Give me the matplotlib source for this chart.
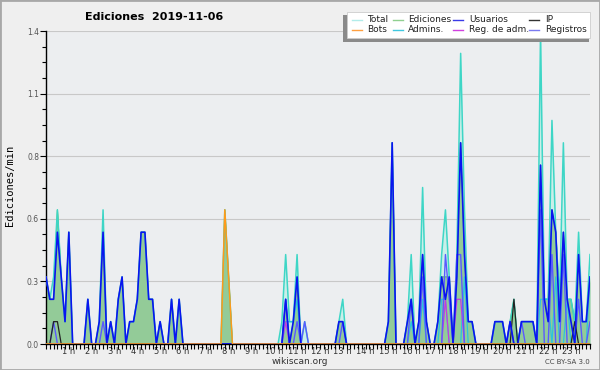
import numpy as np
import matplotlib
matplotlib.use('Agg')
import matplotlib.pyplot as plt
from matplotlib.patches import Rectangle
from matplotlib.lines import Line2D

# edits per 10 minutes, one value per 10-min bin (144 bins)
total = [3,2,3,6,3,1, 5,0,0,0,0,2, 0,0,1,6,0,1, 0,2,3,0,1,1,
         2,5,5,2,2,0, 1,0,0,2,0,2, 0,0,0,0,0,0, 0,0,0,0,0,6,
         3,0,0,0,0,0, 0,0,0,0,0,0, 0,0,1,4,1,1, 4,0,1,0,0,0,
         0,0,0,0,0,1, 2,0,0,0,0,0, 0,0,0,0,0,0, 1,9,0,0,0,1,
         4,0,1,7,1,0, 0,1,4,6,3,0, 4,13,6,1,1,0, 0,0,0,0,1,1,
         1,0,1,2,0,1, 1,1,1,0,14,2, 2,10,5,2,9,2, 2,1,5,1,1,4]
edits = [3,2,2,6,3,1, 5,0,0,0,0,2, 0,0,1,5,0,1, 0,2,3,0,1,1,
         2,5,5,2,2,0, 1,0,0,2,0,2, 0,0,0,0,0,0, 0,0,0,0,0,6,
         3,0,0,0,0,0, 0,0,0,0,0,0, 0,0,0,2,0,1, 3,0,0,0,0,0,
         0,0,0,0,0,1, 1,0,0,0,0,0, 0,0,0,0,0,0, 1,9,0,0,0,1,
         2,0,1,4,1,0, 0,1,3,3,3,0, 3,9,4,1,1,0, 0,0,0,0,1,1,
         1,0,1,2,0,1, 1,1,1,0,8,2, 2,6,5,2,5,2, 2,1,4,1,1,3]
users = [3,2,2,5,3,1, 5,0,0,0,0,2, 0,0,1,5,0,1, 0,2,3,0,1,1,
         2,5,5,2,2,0, 1,0,0,2,0,2, 0,0,0,0,0,0, 0,0,0,0,0,0,
         0,0,0,0,0,0, 0,0,0,0,0,0, 0,0,0,2,0,1, 3,0,0,0,0,0,
         0,0,0,0,0,1, 1,0,0,0,0,0, 0,0,0,0,0,0, 1,9,0,0,0,1,
         2,0,1,4,1,0, 0,1,3,2,3,0, 3,9,4,1,1,0, 0,0,0,0,1,1,
         1,0,1,0,0,1, 1,1,1,0,8,2, 1,6,5,1,5,2, 1,0,4,1,1,3]
ip = [0,0,1,1,0,0] + [0]*114 + [0,0,0,2,0,0, 0,0,0,0,0,0, 0,0,0,0,0,0, 0,1,0,0,0,0]
bots = [0]*47 + [6,3] + [0]*95
admins = [0]*63 + [1,1,1,2] + [0]*29 + [1,0,0,2,0,0, 0,0,2,2,0,0, 0,0,3] + [0]*19 + \
         [2,2,2,0,3,0, 0,2,0,0,0,0, 0,3]
reg_adm = [0]*63 + [1] + [0]*41 + [2,0,0,2,2] + [0]*34
registros = [0,0,1,0,0,0, 0,0,0,0,0,0, 0,0,0,1,0,0] + [0]*45 + \
            [2,0,0,1,0,1] + [0]*9 + [1] + [0]*17 + \
            [2,0,0,3,0,0, 0,0,0,4,2,0, 4,4,0,0,0,0, 0,0,0,0,0,0,
             0,0,1,0,0,1, 0,0,0,0,6,0, 0,4,0,0,4,0, 0,0,2,0,0,1]

hours = np.arange(144) / 6
def per_min(a):
    return np.array(a) / 10

W, H = 600, 370
def fx(px):
    return px / W
def fy(py):
    return 1 - py / H

fig = plt.figure(figsize=(6, 3.7), dpi=100, facecolor='#efefef')
ax = fig.add_axes([fx(46), fy(344), 544 / W, 313 / H])
ax.set_facecolor('#eceef0')

ax.fill_between(hours, per_min(total), color='#c9efe9', lw=0, zorder=1)
ax.fill_between(hours, per_min(edits), color='#93cb98', lw=0, zorder=2)
ax.plot(hours, per_min(edits), color='#4cbf4c', lw=0.8, zorder=3)
ax.plot(hours, per_min(total), color='#3ed6c6', lw=1.1, zorder=4)
ax.plot(hours, per_min(admins), color='#2cc4dc', lw=0.9, zorder=5)
ax.plot(hours, per_min(reg_adm), color='#c838e0', lw=0.9, zorder=6)
ax.plot(hours, per_min(registros), color='#5a5aff', lw=1.0, zorder=7)
ax.plot(hours, per_min(ip), color='#222222', lw=0.9, zorder=8)
ax.plot(hours, per_min(users), color='#0a14f0', lw=1.2, zorder=9)
ax.plot(hours, per_min(bots), color='#ff9a1a', lw=1.1, zorder=10)

ax.set_xlim(0, 143 / 6)
ax.set_ylim(0, 1.4)

for s in ['top', 'right']:
    ax.spines[s].set_visible(False)
for s in ['left', 'bottom']:
    ax.spines[s].set_color('black')
    ax.spines[s].set_linewidth(1)

ax.set_yticks(np.linspace(0, 1.4, 6))
ax.set_yticks(np.arange(0, 1.41, 0.07), minor=True)
ax.yaxis.set_major_formatter(matplotlib.ticker.FormatStrFormatter('%.1f'))
ax.set_xticks(range(1, 24))
ax.set_xticklabels(['%d h' % h for h in range(1, 24)])
ax.set_xticks(np.arange(0, 144) / 6, minor=True)
ax.tick_params(axis='y', which='major', length=4, width=0.8, labelsize=5.5, labelcolor='#555555', pad=1)
ax.tick_params(axis='y', which='minor', length=3, width=0.8)
ax.tick_params(axis='x', which='both', length=3.5, width=0.8, labelsize=6, labelcolor='#333333', pad=-1.2)
ax.yaxis.grid(True, color='#c8c8c8', lw=0.8)
ax.set_axisbelow(True)

fig.text(fx(154), fy(17), 'Ediciones  2019-11-06', ha='center', va='center', fontsize=8, fontweight='bold')
fig.text(fx(10), fy(185), 'Ediciones/min', rotation=90, family='DejaVu Sans Mono', fontsize=7.5,
         ha='center', va='center')

# legend box with shadow
fig.add_artist(Rectangle((fx(343), fy(41.5)), fx(589) - fx(343), fy(15) - fy(41.5),
                         transform=fig.transFigure, color='#8a8a8a', lw=0))
fig.add_artist(Rectangle((fx(346.7), fy(38.3)), fx(590) - fx(346.7), fy(11.7) - fy(38.3),
                         transform=fig.transFigure, fc='white', ec='#cccccc', lw=0.6))
legend_names = [['Total', 'Ediciones', 'Usuarios', 'IP'], ['Bots', 'Admins.', 'Reg. de adm.', 'Registros']]
legend_cols = [['#b2ecea', '#90d090', '#3a3ae8', '#333333'], ['#ffa040', '#40c8e0', '#d040e0', '#7a7af0']]
line_x = [351.7, 392.7, 453, 529]
text_x = [366.7, 408.3, 469, 545]
row_y = [19.5, 29.5]
for r in range(2):
    for c in range(4):
        fig.add_artist(Line2D([fx(line_x[c]), fx(line_x[c] + 10)], [fy(row_y[r]), fy(row_y[r])],
                              color=legend_cols[r][c], lw=1))
        fig.text(fx(text_x[c]), fy(row_y[r]), legend_names[r][c], fontsize=6.5, ha='left', va='center',
                 color='#222222')

fig.text(fx(300), fy(362), 'wikiscan.org', fontsize=6.5, ha='center', va='center', color='#333333')
fig.text(fx(590), fy(362.5), 'CC BY-SA 3.0', fontsize=5, ha='right', va='center', color='#444444')
fig.add_artist(Rectangle((0, 0), 1, 1, transform=fig.transFigure, fill=False, ec='#a8a8a8', lw=2))

fig.savefig('out.png', dpi=100, facecolor=fig.get_facecolor())
